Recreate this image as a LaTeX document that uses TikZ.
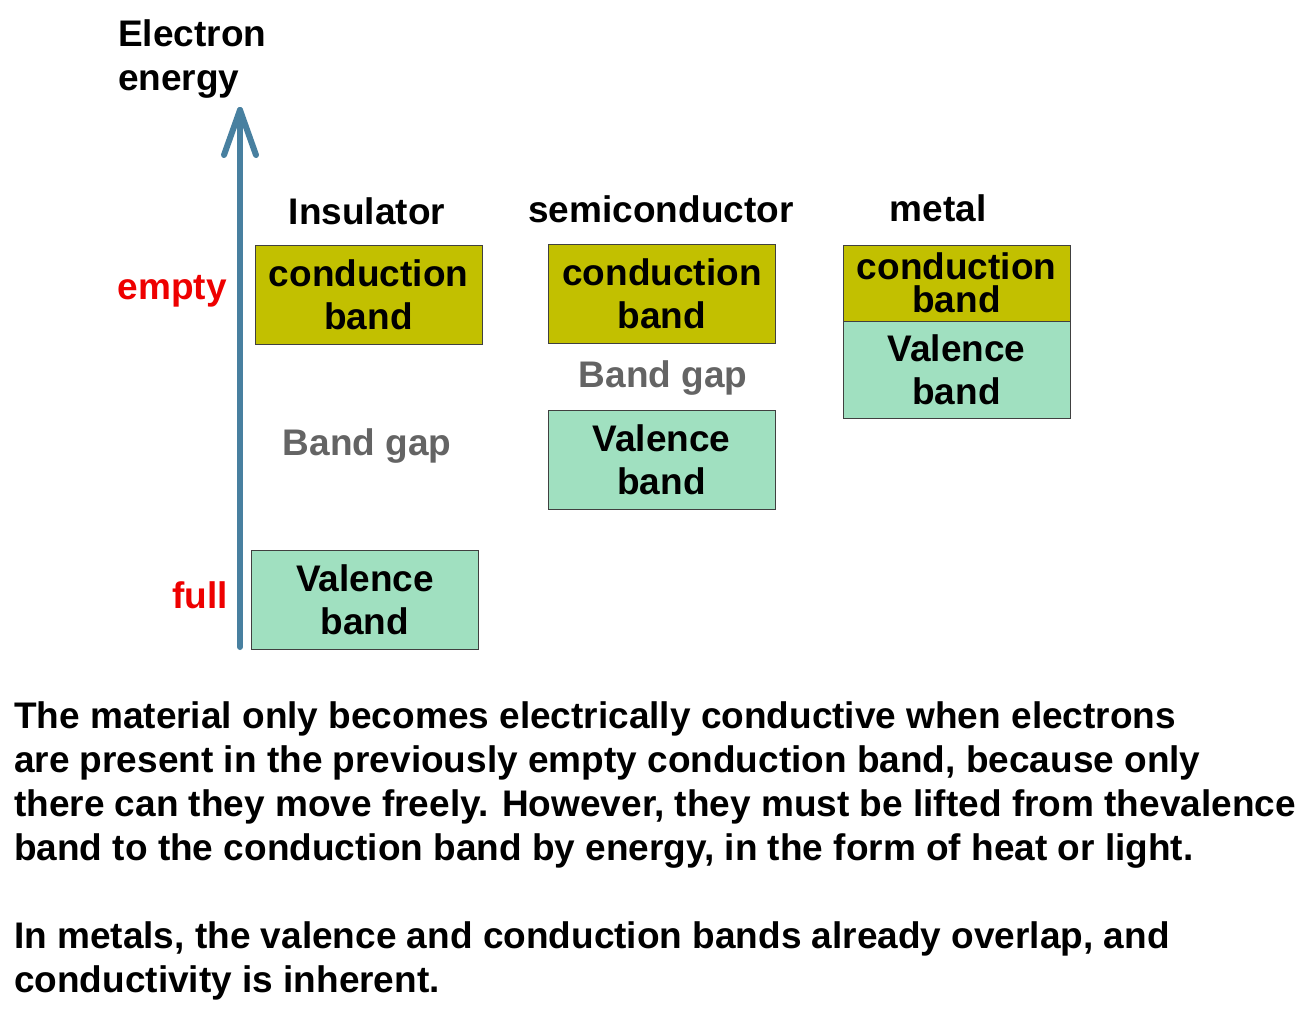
\documentclass[tikz,border=0pt]{standalone}
\usepackage{fontspec}
\setmainfont{Liberation Sans}
\definecolor{cbcol}{RGB}{194,192,0}
\definecolor{vbcol}{RGB}{160,224,192}
\definecolor{axcol}{RGB}{72,128,160}
\definecolor{gapcol}{RGB}{100,100,100}
\definecolor{labcol}{RGB}{238,0,0}
\begin{document}
\begin{tikzpicture}[x=1pt,y=-1pt,
  font=\fontsize{37}{43}\selectfont\bfseries,
  band/.style={draw=black!75, line width=1pt, align=center, inner sep=0pt, minimum width=227pt},
  cband/.style={band, fill=cbcol},
  vband/.style={band, fill=vbcol},
  title/.style={anchor=base, inner sep=0pt},
  gaplab/.style={anchor=base, inner sep=0pt, text=gapcol},
  para/.style={anchor=base west, inner sep=0pt, font=\fontsize{37}{44}\selectfont\bfseries},
  axis/.style={draw=axcol, line width=6pt, line cap=round, line join=round}]
\useasboundingbox[fill=white] (0,0) rectangle (1307,1015);

% energy axis
\coordinate (axbot) at (240,647);
\coordinate (axtip) at (240,110);
\coordinate (headL) at (224,155);
\coordinate (headR) at (256,155);
\draw[axis] (axbot) -- (axtip);
\draw[axis] (headL) -- (axtip) -- (headR);

\node[anchor=base west, inner sep=0pt] (el1) at (118,46) {Electron};
\node[anchor=base west, inner sep=0pt] (el2) at (118,90) {energy};
\node[anchor=base east, inner sep=0pt, text=labcol] (empty) at (227,299) {empty};
\node[anchor=base east, inner sep=0pt, text=labcol] (full) at (228,608) {full};

% insulator
\node[title] (tins) at (367,224) {Insulator};
\node[cband, minimum height=99pt] (icb) at (368.5,294.5) {conduction\\band};
\node[gaplab] (igap) at (367,455) {Band gap};
\node[vband, minimum height=99pt] (ivb) at (365,599.5) {Valence\\band};

% semiconductor
\node[title] (tsemi) at (661,222) {semiconductor};
\node[cband, minimum height=99pt] (scb) at (662,293.5) {conduction\\band};
\node[gaplab] (sgap) at (663,387) {Band gap};
\node[vband, minimum height=99pt] (svb) at (661.5,459.5) {Valence\\band};

% metal
\node[title] (tmet) at (938,221) {metal};
\node[cband, minimum height=76pt, font=\fontsize{37}{33}\selectfont\bfseries] (mcb) at (956.5,283) {conduction\\band};
\node[vband, minimum height=97pt] (mvb) at (956.5,369.5) {Valence\\band};

% text
\node[para] (p1) at (14,728) {The material only becomes electrically conductive when electrons};
\node[para] (p2) at (14,772) {are present in the previously empty conduction band, because only};
\node[para] (p3) at (14,816) {there can they move freely. However, they must be lifted from thevalence};
\node[para] (p4) at (14,860) {band to the conduction band by energy, in the form of heat or light.};
\node[para] (p5) at (14,948) {In metals, the valence and conduction bands already overlap, and};
\node[para] (p6) at (14,992) {conductivity is inherent.};
\end{tikzpicture}
\end{document}
